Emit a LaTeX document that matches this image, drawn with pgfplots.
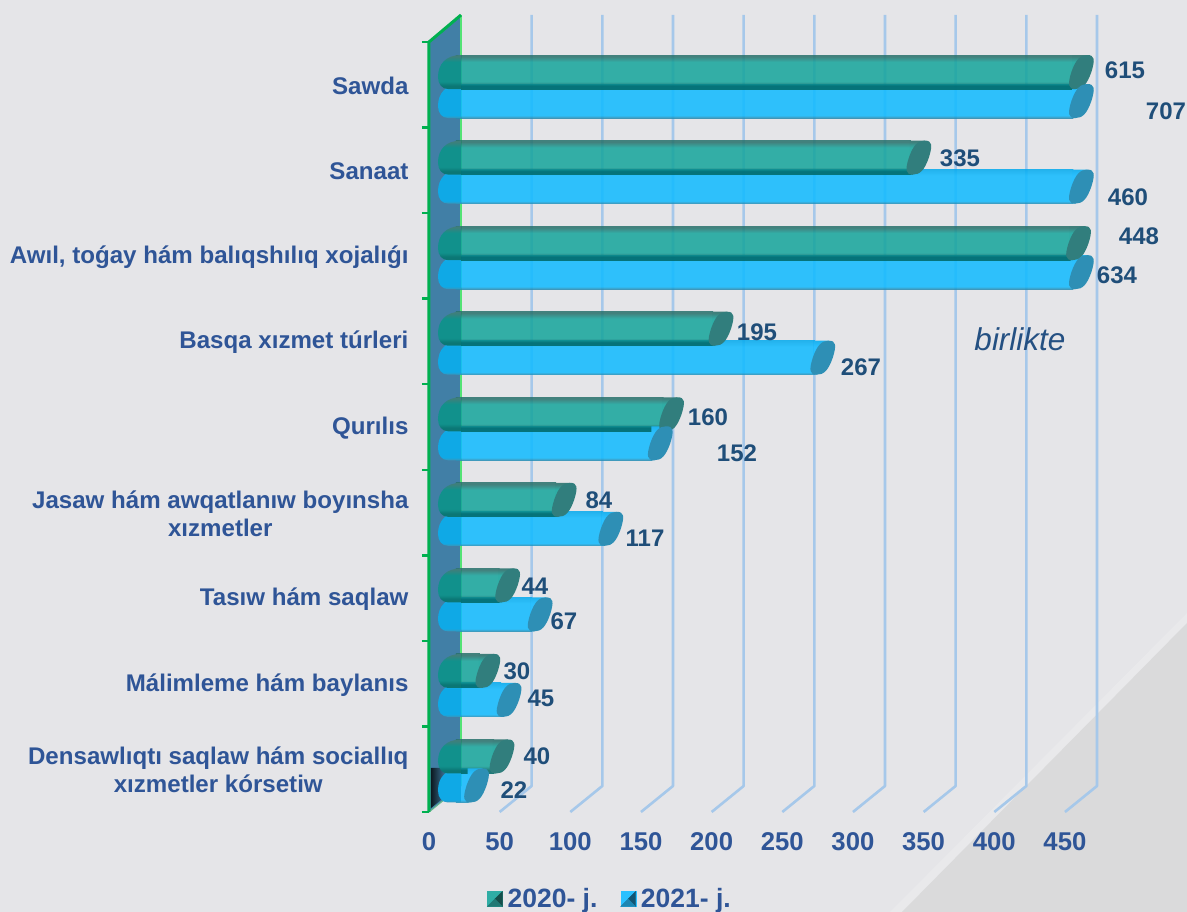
\documentclass[border=0pt]{standalone}
\usepackage{pgfplots}
\pgfplotsset{compat=1.18}
\usepackage{pgfplotstable}
\usepackage{fontspec}
\setmainfont{Liberation Sans}
\definecolor{bgc}{HTML}{E5E5E8}
\definecolor{bgl}{HTML}{E9E9EB}
\definecolor{bgd}{HTML}{DADADB}
\definecolor{lab}{HTML}{2F5597}
\definecolor{num}{HTML}{1F4E79}
\definecolor{grn}{HTML}{00B050}
\definecolor{gridc}{HTML}{A6C8EA}
\definecolor{wall}{HTML}{417FA6}
\definecolor{tA}{HTML}{006866}
\definecolor{tB}{HTML}{16A59C}
\definecolor{tC}{HTML}{28716C}
\definecolor{tAo}{HTML}{0B7775}
\definecolor{tBo}{HTML}{2FADA5}
\definecolor{tCo}{HTML}{3F7F7B}
\definecolor{tCap}{HTML}{317E7D}
\definecolor{tLeft}{HTML}{11918C}
\definecolor{tLeg}{HTML}{2FADA5}
\definecolor{bA}{HTML}{2689AE}
\definecolor{bB}{HTML}{10BBFF}
\definecolor{bC}{HTML}{04ABEF}
\definecolor{bAo}{HTML}{3D94B5}
\definecolor{bBo}{HTML}{2AC0FF}
\definecolor{bCo}{HTML}{1FB2EE}
\definecolor{bCap}{HTML}{2E8FB5}
\definecolor{bLeft}{HTML}{0FA9E6}
\definecolor{bLeg}{HTML}{2AC0FF}
\pgfdeclareverticalshading{tealbar}{100bp}{color(0bp)=(tA);color(25bp)=(tA);color(30bp)=(tA);color(36bp)=(tB);color(65bp)=(tB);color(73bp)=(tC);color(75bp)=(tC);color(100bp)=(tC)}
\pgfdeclareverticalshading{bluebar}{100bp}{color(0bp)=(bA);color(25bp)=(bA);color(29bp)=(bB);color(66bp)=(bB);color(75bp)=(bC);color(100bp)=(bC)}
\pgfdeclareverticalshading{tealO}{100bp}{color(0bp)=(tAo);color(25bp)=(tAo);color(30bp)=(tAo);color(36bp)=(tBo);color(65bp)=(tBo);color(73bp)=(tCo);color(75bp)=(tCo);color(100bp)=(tCo)}
\pgfdeclareverticalshading{blueO}{100bp}{color(0bp)=(bAo);color(25bp)=(bAo);color(29bp)=(bBo);color(66bp)=(bBo);color(75bp)=(bCo);color(100bp)=(bCo)}
\pgfdeclareverticalshading{tealL}{100bp}{color(0bp)=(tAo);color(25bp)=(tAo);color(30bp)=(tAo);color(36bp)=(tLeft);color(65bp)=(tLeft);color(73bp)=(tCo);color(75bp)=(tCo);color(100bp)=(tCo)}
\pgfdeclareverticalshading{blueL}{100bp}{color(0bp)=(bAo);color(25bp)=(bAo);color(29bp)=(bLeft);color(66bp)=(bLeft);color(75bp)=(bCo);color(100bp)=(bCo)}
% end face of a bar
\pgfdeclareplotmark{barcap}{%
  \pgfpathmoveto{\pgfqpoint{6pt}{17pt}}%
  \pgfpathcurveto{\pgfqpoint{13.1pt}{17pt}}{\pgfqpoint{14pt}{12.75pt}}{\pgfqpoint{10pt}{0pt}}%
  \pgfpathcurveto{\pgfqpoint{5.5pt}{-12.75pt}}{\pgfqpoint{1.1pt}{-17pt}}{\pgfqpoint{-6pt}{-17pt}}%
  \pgfpathcurveto{\pgfqpoint{-13.1pt}{-17pt}}{\pgfqpoint{-14pt}{-12.75pt}}{\pgfqpoint{-10pt}{0pt}}%
  \pgfpathcurveto{\pgfqpoint{-5.5pt}{12.75pt}}{\pgfqpoint{-1.1pt}{17pt}}{\pgfqpoint{6pt}{17pt}}%
  \pgfpathclose\pgfusepathqfill}
% slanted join between the body and the end face
\newcommand{\joinpath}{%
  \pgfpathmoveto{\pgfqpoint{-9pt}{-17pt}}%
  \pgfpathlineto{\pgfqpoint{-6pt}{-17pt}}%
  \pgfpathlineto{\pgfqpoint{6pt}{17pt}}%
  \pgfpathlineto{\pgfqpoint{-9pt}{17pt}}%
  \pgfpathclose}
\pgfdeclareplotmark{joinT}{\joinpath\pgfshadepath{tealO}{0}\pgfusepath{discard}}
\pgfdeclareplotmark{joinB}{\joinpath\pgfshadepath{blueO}{0}\pgfusepath{discard}}
% rounded far-left part of a bar
\newcommand{\leftpath}{%
  \pgfpathmoveto{\pgfqpoint{11pt}{17pt}}%
  \pgfpathcurveto{\pgfqpoint{-4pt}{17pt}}{\pgfqpoint{-12pt}{8pt}}{\pgfqpoint{-12pt}{-5pt}}%
  \pgfpathcurveto{\pgfqpoint{-12pt}{-12pt}}{\pgfqpoint{-8pt}{-17pt}}{\pgfqpoint{-2pt}{-17pt}}%
  \pgfpathlineto{\pgfqpoint{11pt}{-17pt}}%
  \pgfpathclose}
\pgfdeclareplotmark{leftT}{\leftpath\pgfshadepath{tealL}{0}\pgfusepath{discard}}
\pgfdeclareplotmark{leftB}{\leftpath\pgfshadepath{blueL}{0}\pgfusepath{discard}}
\pgfplotstableread{
idx a b
0 615 707
1 335 460
2 448 634
3 195 267
4 160 152
5 84 117
6 44 67
7 30 45
8 40 22
}\datatab
\newcommand{\PP}[2]{({(#1-429)*1pt},{(812-#2)*1pt})}
\newcommand{\lb}[3]{\node[font=\fontsize{24}{28}\selectfont\bfseries,text=num] at \PP{#1}{#2} {#3};}
\begin{document}
\begin{tikzpicture}[x=1pt,y=1pt]
\fill[bgc] \PP{0}{0} rectangle \PP{1187}{912};
\path[use as bounding box] \PP{0}{0} rectangle \PP{1187}{912};
\fill[bgl] \PP{1187}{613} -- \PP{1187}{912} -- \PP{890}{912} -- cycle;
\fill[bgd] \PP{1187}{623} -- \PP{1187}{912} -- \PP{902}{912} -- cycle;
% back wall and grid
\fill[wall] \PP{429}{42} -- \PP{461}{15} -- \PP{461}{786} -- \PP{429}{812} -- cycle;
\shade[left color=black!80!wall,right color=wall] \PP{431}{768} -- \PP{447}{768} -- \PP{447}{795} -- \PP{431}{808} -- cycle;
\foreach \v in {50,100,...,450}{
  \draw[gridc,line width=2.6pt,line join=round] ({\v*1.4133},0) -- ++(32,26) -- ++(0,771);
}
\draw[green!50!gridc,line width=1.5pt] \PP{461}{15} -- \PP{461}{786};
\draw[green!60!black!40!gridc,line width=1.2pt] \PP{429}{812} -- \PP{461}{786};
\begin{axis}[
  at={(0,0)},anchor=south west,scale only axis,width=667pt,height=770pt,
  xmin=0,xmax=472,ymin=-0.5,ymax=8.5,y dir=reverse,clip=false,
  axis line style={draw=none},
  xtick={0,50,...,450},
  ytick={0,...,8},
  minor ytick={-0.5,0.5,...,8.5},
  major tick length=0pt,
  tick align=outside,
  minor tick length=7pt,
  every minor tick/.style={grn,line width=2.5pt},
  yticklabels={{Sawda},{Sanaat},{Awıl, toǵay hám balıqshılıq xojalıǵı},{Basqa xızmet túrleri},{Qurılıs},{Jasaw hám awqatlanıw boyınsha\\xızmetler},{Tasıw hám saqlaw},{Málimleme hám baylanıs},{Densawlıqtı saqlaw hám sociallıq\\xızmetler kórsetiw}},
  yticklabel style={align=center,text=lab,font=\fontsize{24.1}{28}\selectfont\bfseries},
  xticklabel style={text=lab,font=\fontsize{25.7}{30}\selectfont\bfseries},
  /pgf/number format/assume math mode=true,
  tick label style={/pgf/number format/fixed},
  ytick pos=left, xtick pos=bottom,
  y tick label style={xshift=-17pt,yshift=-1pt},
  x tick label style={yshift=-17pt},
  legend cell align=left,
  legend style={at={(0.2714,-0.113)},anchor=center,draw=none,fill=none,
    legend columns=2,font=\fontsize{26.5}{30}\selectfont\bfseries,text=lab,
    /tikz/every even column/.style={column sep=21pt},
    /tikz/every odd column/.style={column sep=3pt},inner sep=0pt},
  legend image code/.code={
    \fill[#1,fill=.] (0pt,-7.5pt) rectangle (15pt,7.5pt);
    \fill[black!55!.] (15pt,-7.5pt) -- (7.5pt,0pt) -- (15pt,7.5pt) -- cycle;
    \fill[black!30!.] (0pt,-7.5pt) -- (7.5pt,0pt) -- (15pt,-7.5pt) -- cycle;
  },
  capstyle/.style={forget plot,only marks,xshift=21pt,x filter/.expression={min(x,450)-3.2}},
  leftstyle/.style={forget plot,only marks,xshift=21pt},
  bodystyle/.style={forget plot,xbar,bar width=34pt,bar shift=0pt,xshift=27pt,draw=none,opacity=.86,
    x filter/.expression={min(x,450)-13.1}},
]
\addlegendimage{tLeg}\addlegendentry{2020- j.}
\addlegendimage{bLeg}\addlegendentry{2021- j.}
% 2021 series
\pgfplotsinvokeforeach{-0.5:0.5,0.5:1.5,1.5:2.5,2.5:3.5,3.5:4.5,4.5:5.5,5.5:6.5,6.5:7.5,7.5:8.5}{
\addplot[bodystyle,shading=bluebar,restrict y to domain=#1] table[x=b,y expr=\thisrow{idx}+0.19] {\datatab};
}
\addplot[leftstyle,mark=leftB] table[x expr=0,y expr=\thisrow{idx}+0.19] {\datatab};
\addplot[capstyle,mark=joinB] table[x=b,y expr=\thisrow{idx}+0.19] {\datatab};
% 2020 series
\pgfplotsinvokeforeach{-0.5:0.5,0.5:1.5,1.5:2.5,2.5:3.5,3.5:4.5,4.5:5.5,5.5:6.5,6.5:7.5,7.5:8.5}{
\addplot[bodystyle,shading=tealbar,restrict y to domain=#1] table[x=a,y expr=\thisrow{idx}-0.149] {\datatab};
}
\addplot[leftstyle,mark=leftT] table[x expr=0,y expr=\thisrow{idx}-0.149] {\datatab};
\addplot[capstyle,mark=joinT] table[x=a,y expr=\thisrow{idx}-0.149] {\datatab};
\addplot[capstyle,mark=barcap,color=tCap] table[x=a,y expr=\thisrow{idx}-0.149] {\datatab};
\addplot[capstyle,mark=barcap,color=bCap] table[x=b,y expr=\thisrow{idx}+0.19] {\datatab};
\end{axis}
\draw[grn,line width=3pt] \PP{429}{812} -- \PP{429}{42} -- \PP{461}{15};
\lb{1125}{70}{615}\lb{1166}{111}{707}\lb{960}{158}{335}\lb{1128}{197}{460}
\lb{1139}{236}{448}\lb{1117}{275}{634}\lb{757}{332}{195}\lb{861}{367}{267}
\lb{708}{417}{160}\lb{737}{453}{152}\lb{599}{500}{84}\lb{645}{538}{117}
\lb{535}{586}{44}\lb{564}{621}{67}\lb{517}{671}{30}\lb{541}{698}{45}
\lb{537}{756}{40}\lb{514}{790}{22}
\node[font=\fontsize{31.5}{34}\selectfont\itshape,text=num!70!lab] at \PP{1020}{339} {birlikte};
\end{tikzpicture}
\end{document}
